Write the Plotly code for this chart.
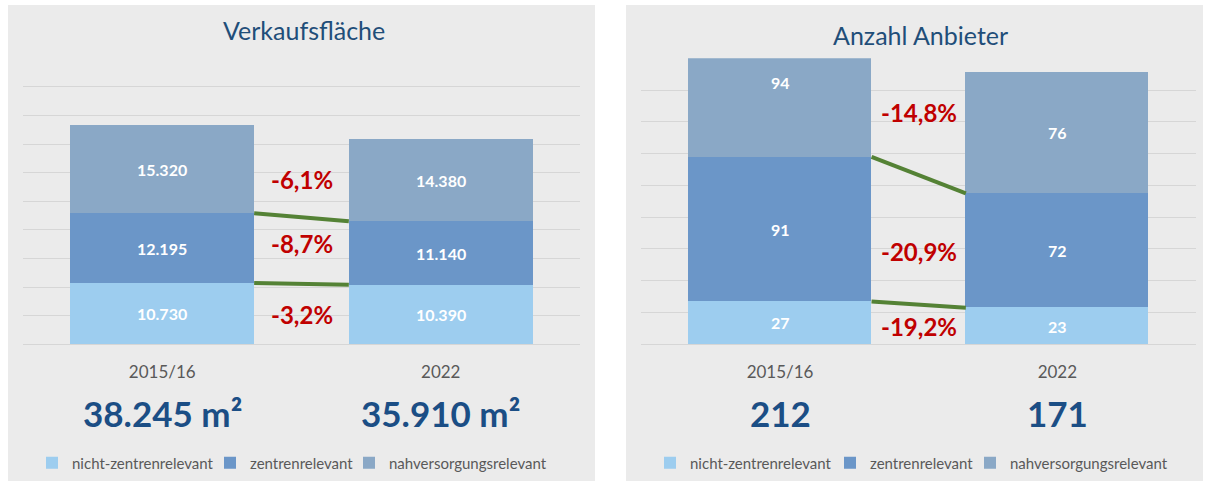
import plotly.graph_objects as go

# ---------------- data ----------------
categories = ["2015/16", "2022"]
series_names = ["nicht-zentrenrelevant", "zentrenrelevant", "nahversorgungsrelevant"]

vk_nicht = [10730, 10390]
vk_zentren = [12195, 11140]
vk_nahv = [15320, 14380]
vk_changes = ["-3,2%", "-8,7%", "-6,1%"]

an_nicht = [27, 23]
an_zentren = [91, 72]
an_nahv = [94, 76]
an_changes = ["-19,2%", "-20,9%", "-14,8%"]

titles = ["Verkaufsfläche", "Anzahl Anbieter"]
unit_suffix = [" m²", ""]

# ---------------- style ----------------
colors = ["#9DCDEF", "#6B96C8", "#8AA8C6"]
W, H = 1207, 481
FONT = "Lato"
panel_bg = "#EBEBEB"
grid_c = "#D6D6D6"
green = "#548235"
red = "#C00000"
title_blue = "#1F4E79"
total_blue = "#1B4E85"
grey_txt = "#595959"
bar_w = 0.66


def px_x(p):
    return p / W


def px_y(p):
    return (H - p) / H


def de(v):
    return f"{v:,}".replace(",", ".")


fig = go.Figure()

panels = [
    dict(series=[vk_nicht, vk_zentren, vk_nahv], changes=vk_changes, xa="x", ya="y",
         legends=["legend", "legend2", "legend3"], leg_text_x=[72, 250, 389],
         change_shift=[0, 7, -5],
         dom=[px_x(23), px_x(580)], rng=[0, 50000], dtick=5000),
    dict(series=[an_nicht, an_zentren, an_nahv], changes=an_changes, xa="x2", ya="y2",
         legends=["legend4", "legend5", "legend6"], leg_text_x=[690, 870, 1010],
         change_shift=[-2, -12, -5],
         dom=[px_x(641.4), px_x(1196)], rng=[0, 180], dtick=20),
]

annotations = []
xpos = [0, 1]


def ann(**kw):
    kw.setdefault("showarrow", False)
    kw.setdefault("xanchor", "center")
    kw.setdefault("yanchor", "middle")
    annotations.append(kw)


legend_layouts = {}
legend_common = dict(orientation="h", yanchor="middle", y=px_y(463), xanchor="left",
                     bgcolor="rgba(0,0,0,0)", font=dict(family=FONT, size=15, color=grey_txt),
                     itemwidth=30, borderwidth=0)

for pi, p in enumerate(panels):
    series = p["series"]
    # stacked bars
    for si, vals in enumerate(series):
        fig.add_trace(go.Bar(
            x=xpos, y=vals, name=series_names[si], marker=dict(color=colors[si], line=dict(width=0)),
            width=bar_w, xaxis=p["xa"], yaxis=p["ya"], legend=p["legends"][si],
            hoverinfo="skip",
        ))
        legend_layouts[p["legends"][si]] = dict(x=px_x(p["leg_text_x"][si] - 40), **legend_common)
    # cumulative tops and segment labels
    cum = []
    base = [0, 0]
    for vals in series:
        cum.append([base[i] + vals[i] for i in range(2)])
        centers = [base[i] + vals[i] / 2 for i in range(2)]
        for i in range(2):
            ann(x=xpos[i], y=centers[i], xref=p["xa"], yref=p["ya"], text=f"<b>{de(vals[i])}</b>",
                font=dict(family=FONT, size=16, color="white"))
        base = cum[-1]
    # connector lines for the lower two boundaries
    for li in range(2):
        fig.add_trace(go.Scatter(
            x=[xpos[0] + bar_w / 2, xpos[1] - bar_w / 2], y=[cum[li][0], cum[li][1]],
            mode="lines", line=dict(color=green, width=4), xaxis=p["xa"], yaxis=p["ya"],
            showlegend=False, hoverinfo="skip",
        ))
    # change labels between bars
    base = [0, 0]
    for si, vals in enumerate(series):
        centers = [base[i] + vals[i] / 2 for i in range(2)]
        ann(x=0.5, y=sum(centers) / 2, xref=p["xa"], yref=p["ya"], text=f"<b>{p['changes'][si]}</b>",
            yshift=p["change_shift"][si], font=dict(family=FONT, size=24, color=red))
        base = [base[i] + vals[i] for i in range(2)]
    # totals
    totals = [sum(s[i] for s in series) for i in range(2)]
    for i in range(2):
        ann(x=xpos[i], y=px_y(413), xref=p["xa"], yref="paper",
            text=f"<b>{de(totals[i])}{unit_suffix[pi]}</b>",
            font=dict(family=FONT, size=35, color=total_blue))

# titles
ann(x=px_x(304), y=px_y(30), xref="paper", yref="paper", text=titles[0],
    font=dict(family=FONT, size=25, color=title_blue))
ann(x=px_x(920), y=px_y(35), xref="paper", yref="paper", text=titles[1],
    font=dict(family=FONT, size=25, color=title_blue))

shapes = [
    dict(type="rect", xref="paper", yref="paper", x0=px_x(8), x1=px_x(595), y0=0, y1=px_y(5),
         fillcolor=panel_bg, line=dict(width=0), layer="below"),
    dict(type="rect", xref="paper", yref="paper", x0=px_x(626), x1=px_x(1203), y0=0, y1=px_y(5),
         fillcolor=panel_bg, line=dict(width=0), layer="below"),
]

ydom = [px_y(344.3), px_y(58.3)]
xaxis_common = dict(range=[-0.5, 1.5], tickvals=xpos, ticktext=categories, showgrid=False,
                    zeroline=False, showline=False, ticks="outside", ticklen=12,
                    tickcolor="rgba(0,0,0,0)", tickfont=dict(family=FONT, size=17, color=grey_txt),
                    fixedrange=True)
yaxis_common = dict(showticklabels=False, showgrid=True, gridcolor=grid_c, gridwidth=1,
                    zeroline=True, zerolinecolor=grid_c, zerolinewidth=1, showline=False,
                    fixedrange=True)

fig.update_layout(
    width=W, height=H, margin=dict(l=0, r=0, t=0, b=0),
    paper_bgcolor="white", plot_bgcolor="rgba(0,0,0,0)",
    barmode="stack", bargap=0,
    xaxis=dict(domain=panels[0]["dom"], anchor="y", **xaxis_common),
    yaxis=dict(domain=ydom, anchor="x", range=panels[0]["rng"], dtick=panels[0]["dtick"], **yaxis_common),
    xaxis2=dict(domain=panels[1]["dom"], anchor="y2", **xaxis_common),
    yaxis2=dict(domain=ydom, anchor="x2", range=panels[1]["rng"], dtick=panels[1]["dtick"], **yaxis_common),
    annotations=annotations,
    shapes=shapes,
    font=dict(family=FONT),
    **legend_layouts,
)

fig.write_html("out.html", config={"displayModeBar": False},
               post_script="document.body.style.margin='0px';")
